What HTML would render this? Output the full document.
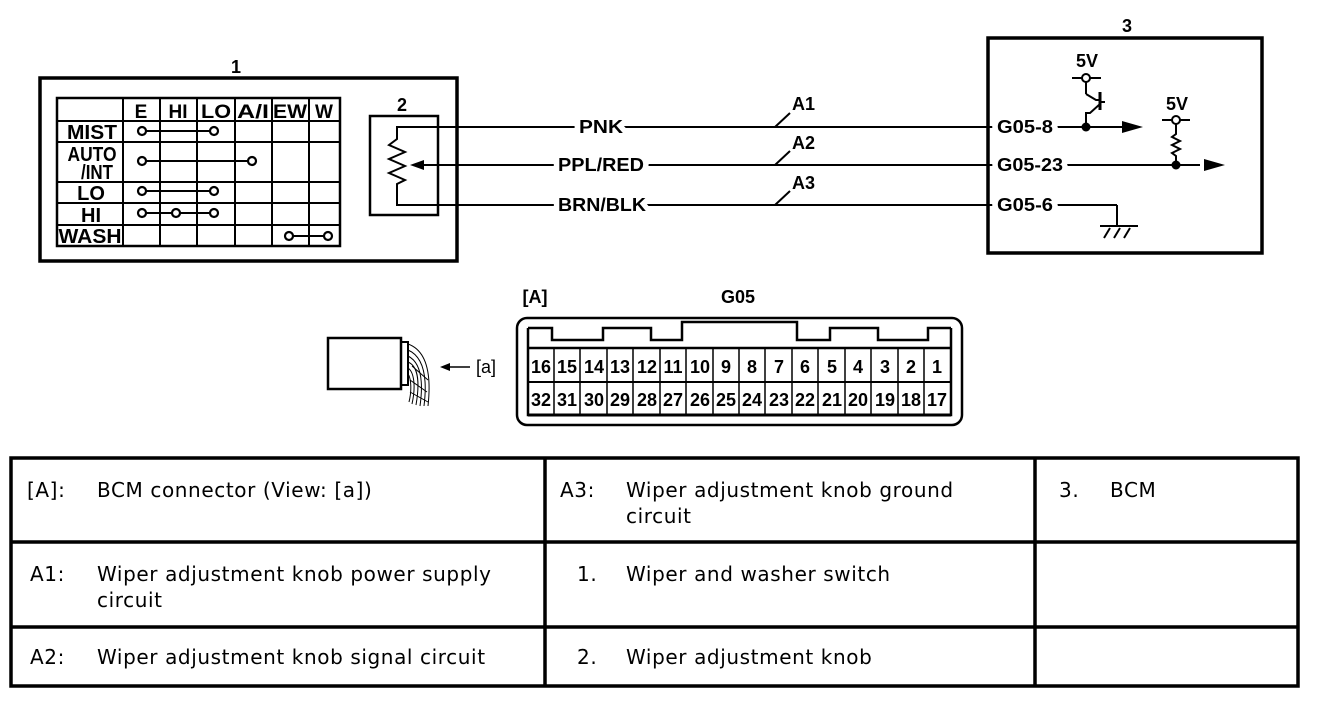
<!DOCTYPE html>
<html><head><meta charset="utf-8"><style>
html,body{margin:0;padding:0;background:#fff;}
svg{display:block;}
.b{font-family:"Liberation Sans",Arial,sans-serif;font-weight:bold;font-size:18px;fill:#000;}
.h{stroke:#fff;stroke-width:10px;paint-order:stroke;stroke-linejoin:round;}
.t{font-family:"DejaVu Sans",Verdana,sans-serif;font-size:20px;letter-spacing:0.6px;fill:#000;}
</style></head><body>
<svg width="1328" height="702" viewBox="0 0 1328 702" xmlns="http://www.w3.org/2000/svg">
<g fill="none" stroke="#000">
<rect x="40" y="78" width="417" height="183" stroke-width="3.5"/>
<rect x="57" y="98" width="283" height="148" stroke-width="2.5"/>
<g stroke-width="2">
<line x1="123" y1="98" x2="123" y2="246"/>
<line x1="160" y1="98" x2="160" y2="246"/>
<line x1="197" y1="98" x2="197" y2="246"/>
<line x1="235" y1="98" x2="235" y2="246"/>
<line x1="272" y1="98" x2="272" y2="246"/>
<line x1="309" y1="98" x2="309" y2="246"/>
<line x1="57" y1="121" x2="340" y2="121"/>
<line x1="57" y1="142" x2="340" y2="142"/>
<line x1="57" y1="182" x2="340" y2="182"/>
<line x1="57" y1="203" x2="340" y2="203"/>
<line x1="57" y1="225" x2="340" y2="225"/>
</g>
<g stroke-width="2">
<line x1="146" y1="131" x2="211" y2="131"/>
<line x1="146" y1="161" x2="249" y2="161"/>
<line x1="146" y1="191" x2="211" y2="191"/>
<line x1="146" y1="213" x2="211" y2="213"/>
<line x1="293" y1="236" x2="325" y2="236"/>
</g>
<g fill="#fff" stroke-width="2.2">
<circle cx="142" cy="131" r="4"/><circle cx="214" cy="131" r="4"/>
<circle cx="142" cy="161" r="4"/><circle cx="252" cy="161" r="4"/>
<circle cx="142" cy="191" r="4"/><circle cx="214" cy="191" r="4"/>
<circle cx="142" cy="213" r="4"/><circle cx="176" cy="213" r="4"/><circle cx="214" cy="213" r="4"/>
<circle cx="289" cy="236" r="4"/><circle cx="328" cy="236" r="4"/>
</g>
<rect x="370" y="116" width="68" height="99" stroke-width="2.5"/>
<polyline points="995,127 397,127 397,139 389,145 405,152 389,159 405,166 389,173 405,180 397,184 397,205 995,205" stroke-width="2"/>
<line x1="420" y1="165" x2="995" y2="165" stroke-width="2"/>
<g stroke-width="2">
<line x1="775" y1="127" x2="790" y2="113"/>
<line x1="775" y1="165" x2="790" y2="151"/>
<line x1="775" y1="205" x2="790" y2="191"/>
</g>
<rect x="988" y="38" width="274" height="215" stroke-width="3.5"/>
<g stroke-width="2">
<line x1="1050" y1="127" x2="1125" y2="127"/>
<line x1="1060" y1="165" x2="1200" y2="165"/>
<line x1="1050" y1="205" x2="1117" y2="205"/>
<line x1="1117" y1="205" x2="1117" y2="226"/>
<line x1="1100" y1="226" x2="1138" y2="226"/>
<line x1="1104" y1="238" x2="1110" y2="228"/>
<line x1="1114" y1="238" x2="1120" y2="228"/>
<line x1="1124" y1="238" x2="1130" y2="228"/>
<line x1="1072" y1="78" x2="1101" y2="78"/>
<line x1="1086" y1="82" x2="1086" y2="94"/>
<polyline points="1086,94 1096,100 1100,100"/>
<line x1="1100" y1="92" x2="1100" y2="110" stroke-width="3"/>
<line x1="1100" y1="102" x2="1105" y2="102"/>
<polyline points="1100,104 1090,113 1086,113 1086,127"/>
<line x1="1162" y1="120" x2="1190" y2="120"/>
<polyline points="1176,124 1176,134 1172,137 1180,141 1172,145 1180,149 1172,153 1176,156 1176,165"/>
</g>
<g fill="#fff" stroke-width="2">
<circle cx="1086" cy="78" r="4"/>
<circle cx="1176" cy="120" r="4"/>
</g>
<rect x="517" y="318" width="445" height="107" rx="10" stroke-width="2.5"/>
<polyline points="528,328 528,415 951,415 951,328" stroke-width="2.5"/>
<polyline points="528,328 552,328 552,340 603,340 603,328 651,328 651,340 682,340 682,322 797,322 797,340 830,340 830,328 878,328 878,340 928,340 928,328 951,328" stroke-width="2.5"/>
<line x1="528" y1="348" x2="951" y2="348" stroke-width="2.5"/>
<line x1="528" y1="382" x2="951" y2="382" stroke-width="2"/>
<line x1="528" y1="415" x2="951" y2="415" stroke-width="3"/>
<rect x="328" y="338" width="73" height="51" stroke-width="2.5"/>
<rect x="401" y="342" width="7" height="43" stroke-width="2"/>
<g stroke-width="1">
<path d="M408,344 C425,350 432,370 428,406"/>
<path d="M408,350 C422,356 428,374 424,406"/>
<path d="M408,356 C420,362 424,378 420,406"/>
<path d="M408,362 C418,366 420,382 416,405"/>
<path d="M408,368 C414,372 416,386 412,404"/>
<path d="M408,374 C411,378 412,390 409,402"/>
<path d="M412,366 L428,380 M410,380 L427,392 M410,392 L428,402"/>
</g>
<line x1="446" y1="367" x2="470" y2="367" stroke-width="1.5"/>
<rect x="11" y="458" width="1287" height="228" stroke-width="3.5"/>
<line x1="11" y1="542" x2="1298" y2="542" stroke-width="3.5"/>
<line x1="11" y1="627" x2="1298" y2="627" stroke-width="3.5"/>
<line x1="545" y1="458" x2="545" y2="686" stroke-width="3.5"/>
<line x1="1035" y1="458" x2="1035" y2="686" stroke-width="3.5"/>
</g>
<g fill="#000">
<polygon points="410,165 424,160 424,170"/>
<polygon points="1143,127 1122,121 1122,133"/>
<polygon points="1225,165 1204,159 1204,171"/>
<circle cx="1086" cy="127" r="4.5"/>
<circle cx="1176" cy="165" r="4.5"/>
<polygon points="440,367 450,363 450,371"/>
</g>
<g stroke="#000" stroke-width="1.5">
<line x1="554" y1="348" x2="554" y2="415"/><line x1="580" y1="348" x2="580" y2="415"/><line x1="607" y1="348" x2="607" y2="415"/><line x1="633" y1="348" x2="633" y2="415"/><line x1="660" y1="348" x2="660" y2="415"/><line x1="686" y1="348" x2="686" y2="415"/><line x1="713" y1="348" x2="713" y2="415"/><line x1="739" y1="348" x2="739" y2="415"/><line x1="765" y1="348" x2="765" y2="415"/><line x1="792" y1="348" x2="792" y2="415"/><line x1="818" y1="348" x2="818" y2="415"/><line x1="845" y1="348" x2="845" y2="415"/><line x1="871" y1="348" x2="871" y2="415"/><line x1="898" y1="348" x2="898" y2="415"/><line x1="924" y1="348" x2="924" y2="415"/>
</g>
<g class="b" text-anchor="middle">
<text x="236" y="73">1</text>
<text x="402" y="111">2</text>
<text x="1127" y="32">3</text>
<text x="141" y="118" font-size="19">E</text><text x="178" y="118" font-size="19">HI</text><text x="216" y="118" font-size="19" textLength="30" lengthAdjust="spacingAndGlyphs">LO</text><text x="253" y="118" font-size="19" textLength="32" lengthAdjust="spacingAndGlyphs">A/I</text><text x="290" y="118" font-size="19" textLength="34" lengthAdjust="spacingAndGlyphs">EW</text><text x="324" y="118" font-size="19">W</text>
<text x="92" y="139" font-size="20" textLength="50" lengthAdjust="spacingAndGlyphs">MIST</text>
<text x="92" y="161" font-size="20" textLength="49" lengthAdjust="spacingAndGlyphs">AUTO</text><text x="97" y="179" font-size="20" textLength="32" lengthAdjust="spacingAndGlyphs">/INT</text>
<text x="91" y="200" font-size="20">LO</text>
<text x="91" y="222" font-size="20">HI</text>
<text x="90" y="243" font-size="20" textLength="63" lengthAdjust="spacingAndGlyphs">WASH</text>
<text x="601" y="133" class="h" textLength="44" lengthAdjust="spacingAndGlyphs">PNK</text>
<text x="601" y="171" class="h" textLength="86" lengthAdjust="spacingAndGlyphs">PPL/RED</text>
<text x="602" y="211" class="h" textLength="88" lengthAdjust="spacingAndGlyphs">BRN/BLK</text>
<text x="1087" y="67">5V</text>
<text x="1177" y="110">5V</text>
<text x="738" y="303">G05</text>
<text x="535" y="303">[A]</text>
</g>
<g class="b">
<text x="792" y="110">A1</text><text x="792" y="149">A2</text><text x="792" y="189">A3</text>
<text x="997" y="133" class="h" textLength="56" lengthAdjust="spacingAndGlyphs">G05-8</text><text x="997" y="171" class="h" textLength="66" lengthAdjust="spacingAndGlyphs">G05-23</text><text x="997" y="211" class="h" textLength="56" lengthAdjust="spacingAndGlyphs">G05-6</text>
<text x="476" y="373" font-weight="normal">[a]</text>
</g>
<g class="b" text-anchor="middle" font-size="18">
<text x="541" y="373">16</text><text x="567" y="373">15</text><text x="594" y="373">14</text><text x="620" y="373">13</text><text x="647" y="373">12</text><text x="673" y="373">11</text><text x="700" y="373">10</text><text x="726" y="373">9</text><text x="752" y="373">8</text><text x="779" y="373">7</text><text x="805" y="373">6</text><text x="832" y="373">5</text><text x="858" y="373">4</text><text x="885" y="373">3</text><text x="911" y="373">2</text><text x="937" y="373">1</text>
<text x="541" y="406">32</text><text x="567" y="406">31</text><text x="594" y="406">30</text><text x="620" y="406">29</text><text x="647" y="406">28</text><text x="673" y="406">27</text><text x="700" y="406">26</text><text x="726" y="406">25</text><text x="752" y="406">24</text><text x="779" y="406">23</text><text x="805" y="406">22</text><text x="832" y="406">21</text><text x="858" y="406">20</text><text x="885" y="406">19</text><text x="911" y="406">18</text><text x="937" y="406">17</text>
</g>
<g class="t">
<text x="27" y="497">[A]:</text><text x="97" y="497">BCM connector (View: [a])</text>
<text x="30" y="581">A1:</text><text x="97" y="581">Wiper adjustment knob power supply</text><text x="97" y="607">circuit</text>
<text x="30" y="664">A2:</text><text x="97" y="664">Wiper adjustment knob signal circuit</text>
<text x="560" y="497">A3:</text><text x="626" y="497">Wiper adjustment knob ground</text><text x="626" y="523">circuit</text>
<text x="577" y="581">1.</text><text x="626" y="581">Wiper and washer switch</text>
<text x="577" y="664">2.</text><text x="626" y="664">Wiper adjustment knob</text>
<text x="1059" y="497">3.</text><text x="1110" y="497">BCM</text>
</g>
</svg>
</body></html>
